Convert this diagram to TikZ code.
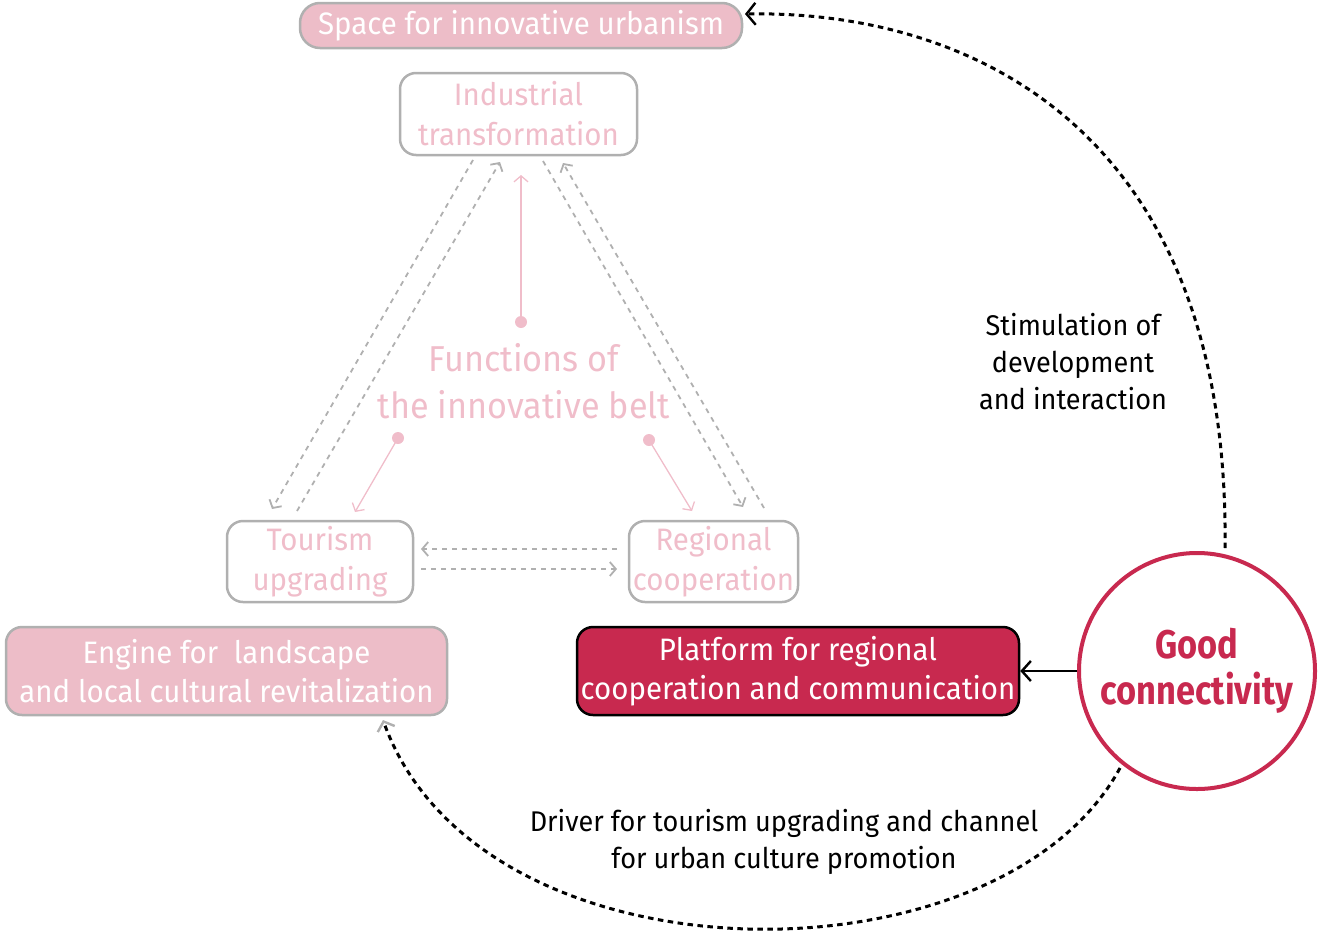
\documentclass[tikz,border=0pt]{standalone}
\usepackage{fontspec}
\setmainfont[FakeStretch=0.95, BoldFeatures={FakeStretch=0.86}]{Fira Sans}
\usetikzlibrary{arrows.meta}
\definecolor{pk}{HTML}{EDBDC8}
\definecolor{pktxt}{HTML}{F0BDCA}
\definecolor{crim}{HTML}{C8294F}
\definecolor{gr}{HTML}{B0B0B0}
\begin{document}
\begin{tikzpicture}[x=1pt,y=-1pt,
  box/.style={rounded corners=16pt, line width=2.5pt, inner sep=0pt, align=center},
  fbox/.style={box, draw=gr, fill=pk, text=white, font=\fontsize{31}{39}\selectfont},
  wbox/.style={box, draw=gr, fill=white, text=pktxt, font=\fontsize{31}{40}\selectfont},
  gdash/.style={draw=gr, line width=1.8pt, dash pattern=on 5pt off 5pt, -{Straight Barb[length=6pt,width=14pt,line width=1.8pt]}},
  parr/.style={draw=pktxt, line width=1.3pt, -{Straight Barb[length=6pt,width=14pt,line width=1.3pt]}},
  pdot/.style={circle, fill=pktxt, inner sep=0pt, minimum size=12pt},
  bdash/.style={draw=black, line width=3pt, dash pattern=on 5.5pt off 4.5pt},
  lbl/.style={align=center, text=black, font=\fontsize{28.5}{37}\selectfont}
]
\useasboundingbox (0,0) rectangle (1322,937);

% boxes
\node[fbox, minimum width=442pt, minimum height=45pt, rounded corners=20pt] (space) at (521,25.5) {Space for innovative urbanism};
\node[wbox, minimum width=237pt, minimum height=82pt] (ind) at (518.5,114) {Industrial\\transformation};
\node[wbox, minimum width=186pt, minimum height=81pt] (tour) at (320,561.5) {Tourism\\upgrading};
\node[wbox, minimum width=169pt, minimum height=81pt] (reg) at (713.5,561.5) {Regional\\cooperation};
\node[fbox, minimum width=441pt, minimum height=88pt] (eng) at (226.5,671) {Engine for\ \ landscape\\and local cultural revitalization};
\node[box, draw=black, fill=crim, text=white, minimum width=442pt, minimum height=88pt, font=\fontsize{31}{39}\selectfont] (plat) at (798,671) {Platform for regional\\cooperation and communication};
\node[circle, draw=crim, line width=4pt, fill=white, minimum size=236pt, inner sep=0pt, align=center, text=crim, font=\bfseries\fontsize{40}{46}\selectfont] (good) at (1197,671) {Good\\connectivity};

% center text
\node[align=center, text=pktxt, font=\fontsize{36}{47}\selectfont] (func) at (524,381) {Functions of\\the innovative belt};
\node[pdot] (d1) at (521,322) {};
\node[pdot] (d2) at (398,438) {};
\node[pdot] (d3) at (649,440) {};

% coordinates for gray dashed arrows
\coordinate (a1s) at (473,160); \coordinate (a1e) at (272,509);
\coordinate (a2s) at (297,511); \coordinate (a2e) at (500,162);
\coordinate (a3s) at (543,161); \coordinate (a3e) at (743,507);
\coordinate (a4s) at (764,508); \coordinate (a4e) at (563,163);
\coordinate (a5s) at (617,549); \coordinate (a5e) at (421,549);
\coordinate (a6s) at (421,569); \coordinate (a6e) at (617,569);
\draw[gdash] (a1s) -- (a1e);
\draw[gdash] (a2s) -- (a2e);
\draw[gdash] (a3s) -- (a3e);
\draw[gdash] (a4s) -- (a4e);
\draw[gdash] (a5s) -- (a5e);
\draw[gdash] (a6s) -- (a6e);

% pink arrows
\coordinate (p1) at (521,175);
\coordinate (p2) at (355,512);
\coordinate (p3) at (692,511);
\draw[parr] (d1) -- (p1);
\draw[parr] (d2.center) -- (p2);
\draw[parr] (d3.center) -- (p3);

% black connectors
\draw[line width=2.4pt, -{Straight Barb[length=9pt,width=20pt,line width=2.4pt]}] (good.west) -- (plat.east);
\coordinate (t0) at (1225,548);
\coordinate (t1) at (745,14);
\draw[bdash, -{Straight Barb[length=9pt,width=22pt,line width=2.4pt]}] (t0) .. controls (1230,120) and (960,10) .. (t1);
\coordinate (b0) at (1120,768);
\coordinate (b1) at (383,720);
\draw[bdash, -{Straight Barb[length=8pt,width=18pt,line width=2.4pt,color=gr]}] (b0) .. controls (1000,990) and (480,990) .. (b1);

% labels
\node[lbl] (stim) at (1073,362) {Stimulation of\\development\\and interaction};
\node[lbl] (drv) at (784,842) {Driver for tourism upgrading and channel\\for urban culture promotion};
\end{tikzpicture}
\end{document}
